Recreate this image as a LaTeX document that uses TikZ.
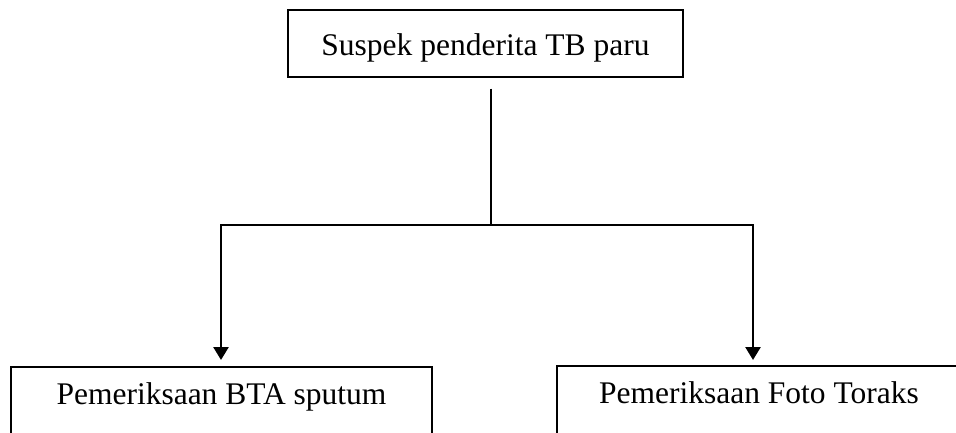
\documentclass[tikz,border=0pt]{standalone}
\usepackage{fontspec}
\setmainfont{Liberation Serif}
\usetikzlibrary{arrows.meta}
\tikzset{
  boxnode/.style={draw=black, line width=1.6pt, inner sep=0pt, anchor=north,
    font=\fontsize{31.5}{38}\selectfont, align=center},
  connline/.style={draw=black, line width=2.6pt, line join=miter},
  arrowline/.style={connline, -{Triangle[length=13pt,width=15pt]}}
}
\begin{document}
\begin{tikzpicture}[x=1pt,y=1pt]
\useasboundingbox (0,0) rectangle (956,432);
% boxes
\node[boxnode, minimum width=395pt, text height=46pt, text depth=21pt] (top) at (485.5,423) {Suspek penderita TB paru};
\node[boxnode, minimum width=421pt, text height=38pt, text depth=60pt] (left) at (221.5,66) {Pemeriksaan BTA sputum};
\node[boxnode, minimum width=404pt, text height=38pt, text depth=60pt] (right) at (759,67) {Pemeriksaan Foto Toraks};
% junction coordinates
\coordinate (j) at (491,207);
\coordinate (lj) at (221,207);
\coordinate (rj) at (753,207);
\coordinate (lend) at (221,72);
\coordinate (rend) at (753,72);
% connectors
\draw[connline, shorten <=11pt] (top.south -| j) -- (j);
\draw[arrowline] (j) -| (lend);
\draw[arrowline] (j) -| (rend);
\end{tikzpicture}
\end{document}
